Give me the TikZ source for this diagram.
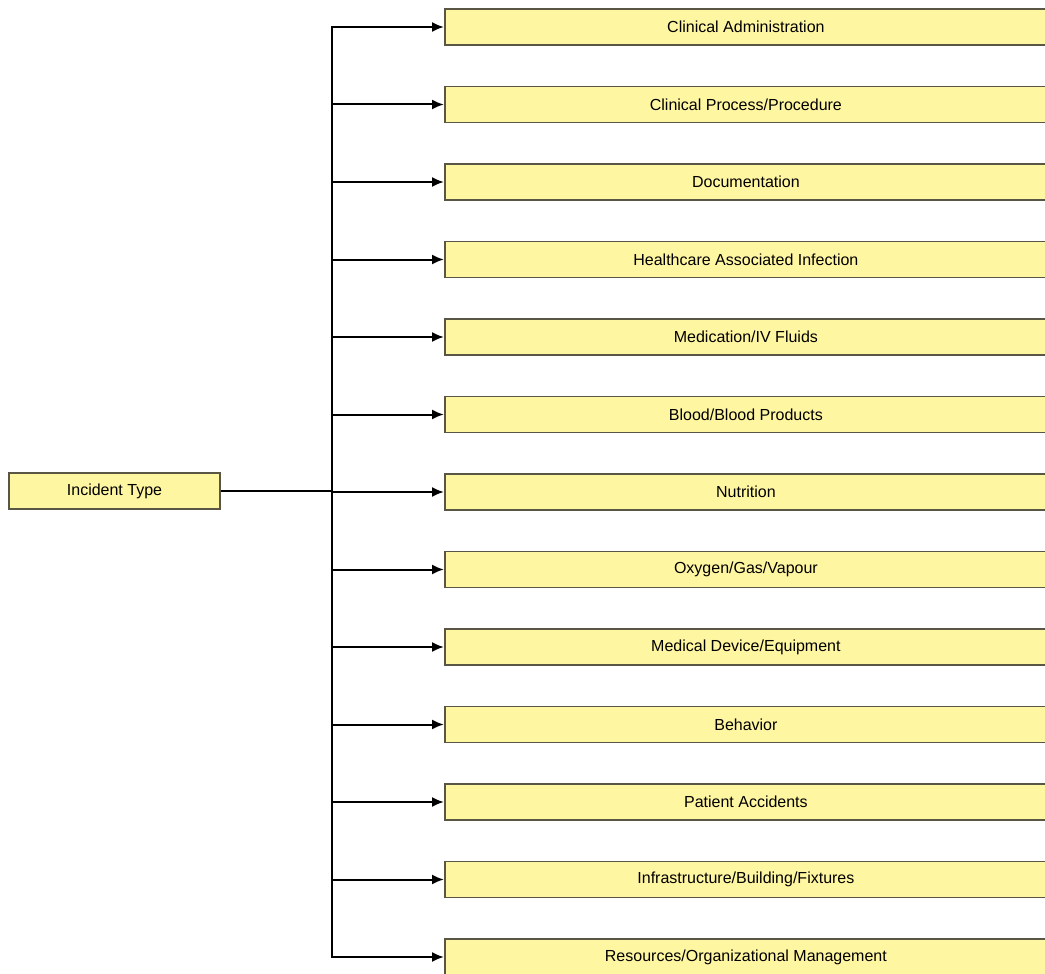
\documentclass[tikz,border=0pt]{standalone}
\usepackage{fontspec}
\setmainfont{Liberation Sans}
\usetikzlibrary{arrows.meta}
\begin{document}
\begin{tikzpicture}[x=1pt,y=-1pt,
  cat/.style={draw=boxline,fill=boxfill,line width=1.8pt,minimum height=36pt,anchor=west,inner sep=0pt,font=\fontsize{16}{19}\selectfont},
  root/.style={draw=boxline,fill=boxfill,line width=1.8pt,minimum width=211pt,minimum height=36pt,inner sep=0pt,font=\fontsize{16}{19}\selectfont},
  branch/.style={line width=2pt,-{Latex[length=12pt,width=10pt]}},
  trunk/.style={line width=2.6pt}]
\definecolor{boxfill}{HTML}{FFF6A2}
\definecolor{boxline}{HTML}{5A5646}
\useasboundingbox (0,0) rectangle (1045,974);
\clip (0,0) rectangle (1045,974);
\node[root] (it) at (114.5,491) {Incident Type};
\coordinate (j) at (332,491);
\foreach \t [count=\i from 0] in {Clinical Administration,Clinical Process/Procedure,Documentation,Healthcare Associated Infection,Medication/IV Fluids,Blood/Blood Products,Nutrition,Oxygen/Gas/Vapour,Medical Device/Equipment,Behavior,Patient Accidents,Infrastructure/Building/Fixtures,Resources/Organizational Management}{
  \node[cat] (c\i) at (444,27+77.5*\i) {\makebox[602pt][c]{\t}\hspace{20pt}};
  \coordinate (b\i) at (332,27+77.5*\i);
  \draw[branch] (b\i) -- (c\i.west);
}
\draw[trunk,line cap=rect] (b0) -- (b12);
\draw[trunk] (it.east) -- (j);
\end{tikzpicture}
\end{document}
